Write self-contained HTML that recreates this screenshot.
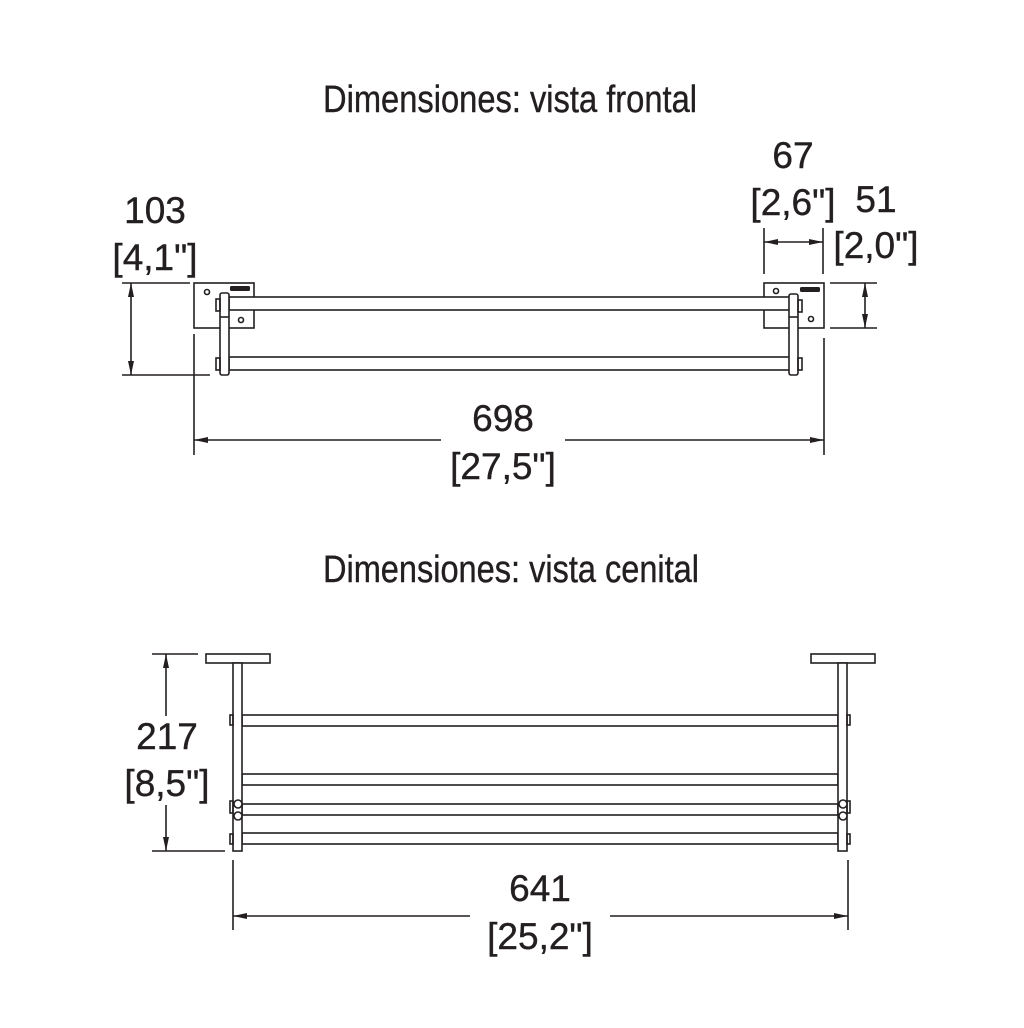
<!DOCTYPE html>
<html><head><style>body{margin:0;background:#fff}svg{display:block}</style></head>
<body>
<svg width="1024" height="1028" viewBox="0 0 1024 1028" xmlns="http://www.w3.org/2000/svg" font-family="Liberation Sans, sans-serif" fill="#231f20">
<defs>
<marker id="a" viewBox="0 0 14 6" refX="14" refY="3" markerWidth="14" markerHeight="6" orient="auto-start-reverse" markerUnits="userSpaceOnUse"><path d="M0,0 L14,3 L0,6 Z" fill="#231f20"/></marker>
</defs>
<g font-size="37" text-anchor="middle" stroke="#231f20" stroke-width="0.4">
<text x="510" y="112" font-size="38" textLength="374" lengthAdjust="spacingAndGlyphs">Dimensiones: vista frontal</text>
<text x="511" y="582" font-size="38" textLength="376" lengthAdjust="spacingAndGlyphs">Dimensiones: vista cenital</text>
<text x="155" y="223">103</text><text x="155" y="270">[4,1"]</text>
<text x="793" y="168">67</text><text x="793" y="215">[2,6"]</text>
<text x="876" y="212">51</text><text x="876" y="258">[2,0"]</text>
<text x="503" y="431">698</text><text x="503" y="479">[27,5"]</text>
<text x="167" y="749">217</text><text x="167" y="796">[8,5"]</text>
<text x="540" y="901">641</text><text x="540" y="949">[25,2"]</text>
</g>
<g stroke="#231f20" stroke-width="1.6" fill="none">
<rect x="194" y="283" width="60" height="45" fill="#fff"/>
<rect x="764" y="283" width="60" height="45" fill="#fff"/>
<rect x="229" y="297" width="561" height="13" fill="#fff"/>
<rect x="229" y="357" width="561" height="13" fill="#fff"/>
<rect x="220" y="293" width="9" height="82" rx="2" fill="#fff"/>
<line x1="220" y1="317" x2="229" y2="317"/>
<rect x="789" y="294" width="9" height="81" rx="2" fill="#fff"/>
<line x1="789" y1="317" x2="798" y2="317"/>
<rect x="216" y="299" width="4" height="12"/><rect x="216" y="358" width="4" height="12"/>
<rect x="798" y="300" width="4" height="12"/><rect x="798" y="358" width="4" height="12"/>
<circle cx="207" cy="292" r="2.5"/><circle cx="241" cy="320" r="2.5"/>
<circle cx="776" cy="291" r="2.5"/><circle cx="811" cy="319" r="2.5"/>
<line x1="122" y1="283" x2="190" y2="283"/><line x1="122" y1="375" x2="210" y2="375"/>
<line x1="131" y1="283" x2="131" y2="375" marker-start="url(#a)" marker-end="url(#a)"/>
<line x1="194" y1="334" x2="194" y2="455"/><line x1="824" y1="338" x2="824" y2="455"/>
<line x1="194" y1="440" x2="441" y2="440" marker-start="url(#a)"/>
<line x1="565" y1="440" x2="824" y2="440" marker-end="url(#a)"/>
<line x1="764" y1="228" x2="764" y2="274"/><line x1="823" y1="228" x2="823" y2="274"/>
<line x1="764" y1="242" x2="823" y2="242" marker-start="url(#a)" marker-end="url(#a)"/>
<line x1="830" y1="283" x2="877" y2="283"/><line x1="830" y1="328" x2="877" y2="328"/>
<line x1="865" y1="283" x2="865" y2="328" marker-start="url(#a)" marker-end="url(#a)"/>
<rect x="206" y="654" width="64" height="9" fill="#fff"/>
<rect x="811" y="654" width="64" height="9" fill="#fff"/>
<rect x="242" y="715" width="596" height="11"/>
<rect x="242" y="774" width="596" height="11"/>
<rect x="242" y="804" width="596" height="11"/>
<rect x="242" y="833" width="596" height="11"/>
<rect x="233" y="663" width="9" height="188" fill="#fff"/>
<rect x="838" y="663" width="9" height="188" fill="#fff"/>
<rect x="230" y="715" width="3" height="10"/><rect x="230" y="801" width="3" height="12"/><rect x="230" y="834" width="3" height="10"/>
<rect x="847" y="715" width="3" height="10"/><rect x="847" y="801" width="3" height="12"/><rect x="847" y="834" width="3" height="10"/>
<circle cx="238" cy="804" r="4" fill="#fff"/><circle cx="238" cy="816" r="4" fill="#fff"/>
<circle cx="843" cy="804" r="4" fill="#fff"/><circle cx="843" cy="816" r="4" fill="#fff"/>
<line x1="152" y1="654" x2="198" y2="654"/><line x1="152" y1="851" x2="225" y2="851"/>
<line x1="166" y1="654" x2="166" y2="716" marker-start="url(#a)"/>
<line x1="166" y1="805" x2="166" y2="851" marker-end="url(#a)"/>
<line x1="233" y1="860" x2="233" y2="930"/><line x1="848" y1="860" x2="848" y2="930"/>
<line x1="233" y1="916" x2="470" y2="916" marker-start="url(#a)"/>
<line x1="610" y1="916" x2="848" y2="916" marker-end="url(#a)"/>
</g>
<rect x="230" y="286" width="20" height="5" rx="1.5"/>
<rect x="800" y="287" width="20" height="5" rx="1.5"/>
</svg>
</body></html>
